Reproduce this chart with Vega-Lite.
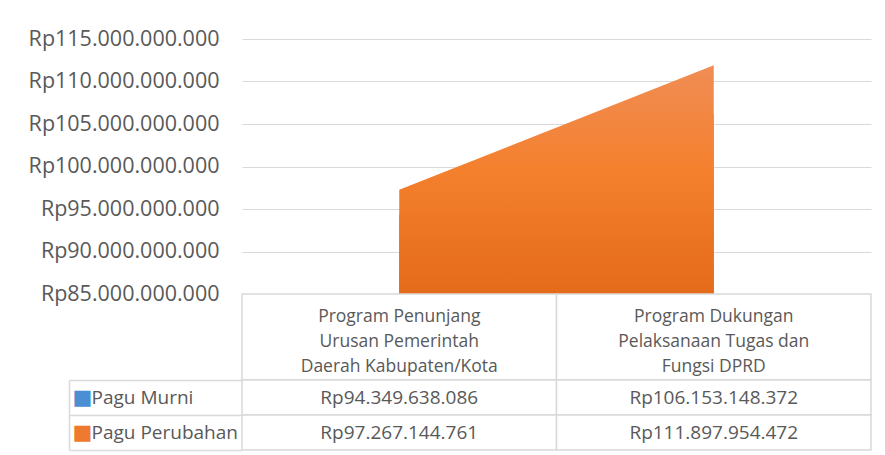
{
  "$schema": "https://vega.github.io/schema/vega-lite/v6.json",
  "background": "white",
  "padding": {"left": 28, "top": 28, "right": 15, "bottom": 5},
  "spacing": 0,
  "bounds": "flush",
  "config": {
    "view": {"stroke": null},
    "locale": {"number": {"decimal": ",", "thousands": ".", "grouping": [3], "currency": ["Rp", ""]}},
    "font": "Open Sans"
  },
  "datasets": {
    "pagu": [
      {"program": "Program Penunjang\nUrusan Pemerintah\nDaerah Kabupaten/Kota", "series": "Pagu Murni", "value": 94349638086},
      {"program": "Program Penunjang\nUrusan Pemerintah\nDaerah Kabupaten/Kota", "series": "Pagu Perubahan", "value": 97267144761},
      {"program": "Program Dukungan\nPelaksanaan Tugas dan\nFungsi DPRD", "series": "Pagu Murni", "value": 106153148372},
      {"program": "Program Dukungan\nPelaksanaan Tugas dan\nFungsi DPRD", "series": "Pagu Perubahan", "value": 111897954472}
    ]
  },
  "vconcat": [
    {
      "width": 629,
      "height": 255,
      "data": {"name": "pagu"},
      "encoding": {
        "x": {"field": "program", "type": "nominal", "sort": null, "scale": {"type": "point", "padding": 0.5}, "axis": null},
        "y": {
          "field": "value", "type": "quantitative",
          "scale": {"domain": [85000000000, 115000000000], "zero": false, "nice": false},
          "axis": {
            "title": null,
            "values": [85000000000, 90000000000, 95000000000, 100000000000, 105000000000, 110000000000, 115000000000],
            "format": "$,.0f",
            "ticks": false,
            "domain": false,
            "labelPadding": 23,
            "labelLimit": 400,
            "labelFont": "Open Sans",
            "labelFontSize": 21.5,
            "labelColor": "#595959",
            "gridColor": "#D9D9D9",
            "gridWidth": 1.2
          }
        },
        "y2": {"datum": 85000000000}
      },
      "layer": [
        {
          "transform": [{"filter": "datum.series === 'Pagu Murni'"}],
          "mark": {"type": "area", "color": {"gradient": "linear", "x1": 0, "y1": 0, "x2": 0, "y2": 1, "stops": [{"offset": 0, "color": "#72A9DE"}, {"offset": 1, "color": "#3D7EC0"}]}}
        },
        {
          "transform": [{"filter": "datum.series === 'Pagu Perubahan'"}],
          "mark": {"type": "area", "color": {"gradient": "linear", "x1": 0, "y1": 0, "x2": 0, "y2": 1, "stops": [{"offset": 0, "color": "#F08D55"}, {"offset": 0.45, "color": "#F4802E"}, {"offset": 1, "color": "#E46B1A"}]}}
        }
      ]
    },
    {
      "width": 629,
      "height": 86,
      "data": {"name": "pagu"},
      "transform": [{"filter": "datum.series === 'Pagu Murni'"}],
      "encoding": {
        "x": {"field": "program", "type": "nominal", "sort": null, "scale": {"type": "band", "paddingInner": 0, "paddingOuter": 0}, "axis": null}
      },
      "layer": [
        {"mark": {"type": "rect", "fill": "white", "stroke": "#D9D9D9", "strokeWidth": 1.5}},
        {
          "mark": {"type": "text", "lineBreak": "\n", "font": "Open Sans", "fontSize": 17.5, "lineHeight": 25, "baseline": "middle", "dy": -20, "color": "#595959"},
          "encoding": {"text": {"field": "program"}}
        }
      ]
    },
    {
      "width": 629,
      "height": 70,
      "data": {"name": "pagu"},
      "resolve": {"axis": {"y": "independent"}},
      "encoding": {
        "x": {"field": "program", "type": "nominal", "sort": null, "scale": {"type": "band", "paddingInner": 0, "paddingOuter": 0}, "axis": null}
      },
      "layer": [
        {
          "mark": {"type": "rect", "fill": "white", "stroke": "#D9D9D9", "strokeWidth": 1.5},
          "encoding": {
            "y": {
              "field": "series", "type": "nominal", "sort": ["Pagu Murni", "Pagu Perubahan"],
              "scale": {"type": "band", "paddingInner": 0, "paddingOuter": 0},
              "axis": {
                "title": null, "domain": false, "ticks": true, "tickBand": "extent", "tickSize": 173,
                "tickColor": "#D9D9D9", "tickWidth": 1.5,
                "labelAlign": "left", "labelPadding": -22,
                "labelFont": "Open Sans", "labelFontSize": 19, "labelColor": "#595959", "grid": false
              }
            }
          }
        },
        {
          "mark": {"type": "text", "font": "Open Sans", "fontSize": 19, "color": "#595959"},
          "encoding": {
            "y": {
              "field": "series", "type": "nominal", "sort": ["Pagu Murni", "Pagu Perubahan"],
              "scale": {"type": "band", "paddingInner": 0, "paddingOuter": 0},
              "axis": {
                "title": null, "orient": "left", "offset": 173, "domain": true, "domainColor": "#D9D9D9", "domainWidth": 1.5,
                "ticks": false, "labelPadding": -3, "labelAlign": "left", "labelExpr": "'■'",
                "labelFont": "DejaVu Sans", "labelFontSize": 21,
                "labelColor": {"condition": {"test": "datum.value === 'Pagu Murni'", "value": "#4A8FD4"}, "value": "#EE7A30"},
                "grid": false
              }
            },
            "text": {"field": "value", "type": "quantitative", "format": "$,.0f"}
          }
        }
      ]
    }
  ]
}
